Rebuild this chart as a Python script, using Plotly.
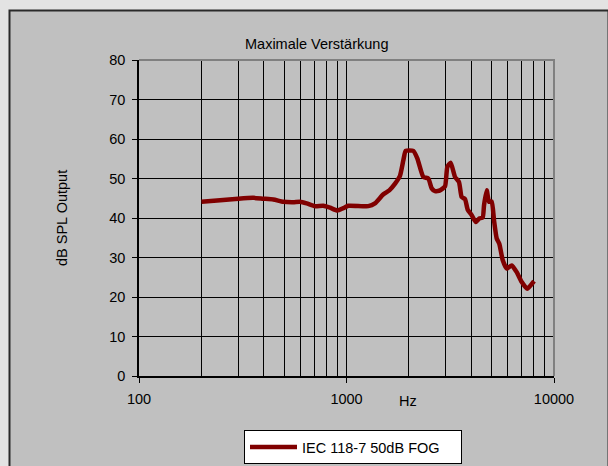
import plotly.graph_objects as go

# Data
freq_hz = [200, 246, 301, 355, 397, 444, 496, 554, 597, 643, 705, 773, 833, 903, 965,
           1020, 1274, 1371, 1505, 1608, 1714, 1811, 1879, 1929, 2099, 2194, 2345, 2479,
           2574, 2670, 2822, 2984, 3061, 3177, 3334, 3485, 3590, 3725, 3839, 4013, 4196,
           4365, 4532, 4600, 4739, 4864, 5010, 5140, 5296, 5450, 5663, 5920, 6252, 6612,
           6990, 7436, 8012]
spl_db = [44.1, 44.5, 44.9, 45.1, 44.9, 44.7, 44.1, 44.0, 44.1, 43.7, 43.0, 43.1, 42.6,
          41.9, 42.5, 43.1, 43.0, 43.7, 46.0, 47.0, 48.7, 50.7, 54.6, 57.0, 57.0, 55.1,
          50.4, 50.0, 47.5, 46.8, 47.0, 48.0, 52.9, 54.0, 50.4, 49.1, 45.3, 44.8, 42.1,
          40.7, 39.0, 39.9, 40.1, 43.2, 47.0, 44.1, 44.2, 39.4, 34.8, 33.5, 29.3, 27.2,
          28.0, 26.3, 23.8, 22.1, 24.0]
series_name = "IEC 118-7 50dB FOG"
chart_title = "Maximale Verstärkung"
x_title = "Hz"
y_title = "dB SPL Output"
x_major_ticks = [100, 1000, 10000]
x_minor_grid = [200, 300, 400, 500, 600, 700, 800, 900,
                2000, 3000, 4000, 5000, 6000, 7000, 8000, 9000]
y_ticks = [0, 10, 20, 30, 40, 50, 60, 70, 80]

FONT = "Liberation Sans, Arial, sans-serif"
FS = 14.5

FIG_W, FIG_H = 608, 466
# plot area in screen pixels
L, R, T, B = 139, 554, 60, 376
W, H = R - L, B - T


def px(x):
    return (x - L) / W


def py(y):
    return (B - y) / H


fig = go.Figure()
fig.add_trace(go.Scatter(
    x=freq_hz, y=spl_db, mode="lines", name=series_name,
    line=dict(color="#800000", width=4.5, shape="spline", smoothing=0.5),
    showlegend=True,
))

fig.update_layout(
    width=FIG_W, height=FIG_H,
    margin=dict(l=L, r=FIG_W - R, t=T, b=FIG_H - B, autoexpand=False),
    paper_bgcolor="#e3e3e3",
    plot_bgcolor="#969696",
    font=dict(family=FONT, size=FS, color="black"),
    showlegend=True,
    legend=dict(
        x=px(244), y=py(430), xanchor="left", yanchor="top",
        orientation="h", entrywidth=154, entrywidthmode="pixels",
        bgcolor="white", bordercolor="black", borderwidth=1,
        font=dict(family=FONT, size=FS, color="black"),
        itemwidth=47,
    ),
    xaxis=dict(
        type="log", range=[2, 4], tickvals=x_major_ticks,
        ticktext=[str(v) for v in x_major_ticks],
        ticks="outside", ticklen=5, tickcolor="black", tickwidth=1,
        showline=True, linecolor="black", linewidth=1.5,
        showgrid=True, gridcolor="black", gridwidth=1,
        minor=dict(tickvals=x_minor_grid, showgrid=True, gridcolor="black",
                   gridwidth=1, ticks=""),
        zeroline=False, ticklabelstandoff=4,
        tickfont=dict(family=FONT, size=FS, color="black"),
    ),
    yaxis=dict(
        range=[0, 80], tickvals=y_ticks,
        ticks="outside", ticklen=5, tickcolor="black", tickwidth=1,
        showline=True, linecolor="black", linewidth=1.5,
        showgrid=True, gridcolor="black", gridwidth=1,
        zeroline=False, ticklabelstandoff=4,
        tickfont=dict(family=FONT, size=FS, color="black"),
    ),
    shapes=[
        # outer chart frame
        dict(type="rect", xref="paper", yref="paper", layer="below",
             x0=px(9.5), x1=px(608.5), y0=py(472), y1=py(10.5),
             fillcolor="#c0c0c0", line=dict(color="#2a2a2a", width=2)),
        # plot area border top/right
        dict(type="path", xref="paper", yref="paper", layer="above",
             path="M 0,1 L 1,1 L 1,0",
             line=dict(color="#808080", width=2)),
    ],
    annotations=[
        dict(text=chart_title, xref="paper", yref="paper", x=px(316), y=py(44),
             xanchor="center", yanchor="middle", showarrow=False,
             font=dict(family=FONT, size=FS, color="black")),
        dict(text=y_title, xref="paper", yref="paper", x=px(62), y=py(218),
             xanchor="center", yanchor="middle", showarrow=False, textangle=-90,
             font=dict(family=FONT, size=FS, color="black")),
        dict(text=x_title, xref="paper", yref="paper", x=px(408), y=py(401),
             xanchor="center", yanchor="middle", showarrow=False,
             font=dict(family=FONT, size=FS, color="black")),
    ],
)

# remove the default page margin so the figure sits at the window origin
fig.write_html(
    "out.html",
    config={"displayModeBar": False},
    post_script="document.body.style.margin='0';document.body.style.overflow='hidden';",
)
